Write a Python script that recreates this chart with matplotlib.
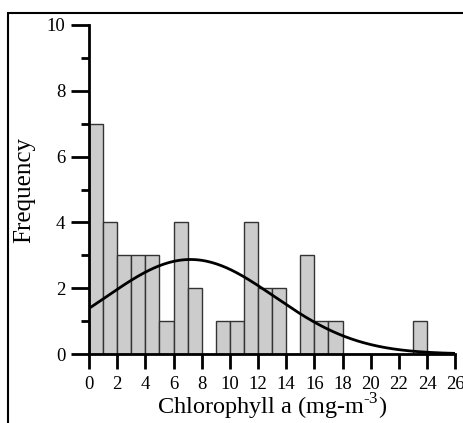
import numpy as np
import matplotlib.pyplot as plt
from matplotlib.patches import Rectangle
from matplotlib.ticker import MultipleLocator

# histogram bins (left edges, width 1) and counts
bin_left = list(range(0, 24))
counts = [7, 4, 3, 3, 3, 1, 4, 2, 0, 1, 1, 4, 2, 2, 0, 3, 1, 1, 0, 0, 0, 0, 0, 1]

# fitted normal curve parameters
fit_mean = 7.2
fit_sd = 5.97
n_obs = sum(counts)

plt.rcParams['font.family'] = ['Liberation Serif', 'DejaVu Serif']
plt.rcParams['mathtext.fontset'] = 'custom'
plt.rcParams['mathtext.rm'] = 'Liberation Serif'

fig = plt.figure(figsize=(4.64, 4.23), dpi=100)
ax = fig.add_axes([0.192, 0.163, 0.789, 0.778])

ax.bar(bin_left, counts, width=1, align='edge', color='#cccccc',
       edgecolor='#333333', linewidth=1, zorder=2)

xs = np.linspace(0, 26, 300)
pdf = n_obs / (fit_sd * np.sqrt(2 * np.pi)) * np.exp(-(xs - fit_mean) ** 2 / (2 * fit_sd ** 2))
ax.plot(xs, pdf, color='black', linewidth=2, zorder=3)

ax.set_xlim(0, 26)
ax.set_ylim(0, 10)
ax.xaxis.set_major_locator(MultipleLocator(2))
ax.yaxis.set_major_locator(MultipleLocator(2))
ax.yaxis.set_minor_locator(MultipleLocator(1))

for side in ['top', 'right']:
    ax.spines[side].set_visible(False)
for side in ['left', 'bottom']:
    ax.spines[side].set_linewidth(2)
    ax.spines[side].set_zorder(4)

ax.tick_params(axis='both', which='major', direction='out', length=11, width=2,
               labelsize=13.5, pad=5)
ax.tick_params(axis='y', which='minor', direction='out', length=6, width=2)
ax.tick_params(axis='y', which='major', length=13, pad=4)

ax.set_xlabel(r'Chlorophyll a (mg-m$^{\text{-3}}$)', fontsize=17.5, labelpad=-1)
ax.set_ylabel('Frequency', fontsize=18, labelpad=8)

# outer frame of the figure (top and left visible)
fig.patches.append(Rectangle((8 / 464, -0.1), 1.2, 1.1 - 13 / 423,
                             transform=fig.transFigure, fill=False,
                             edgecolor='black', linewidth=1.5))

fig.savefig('out.png', dpi=100)
